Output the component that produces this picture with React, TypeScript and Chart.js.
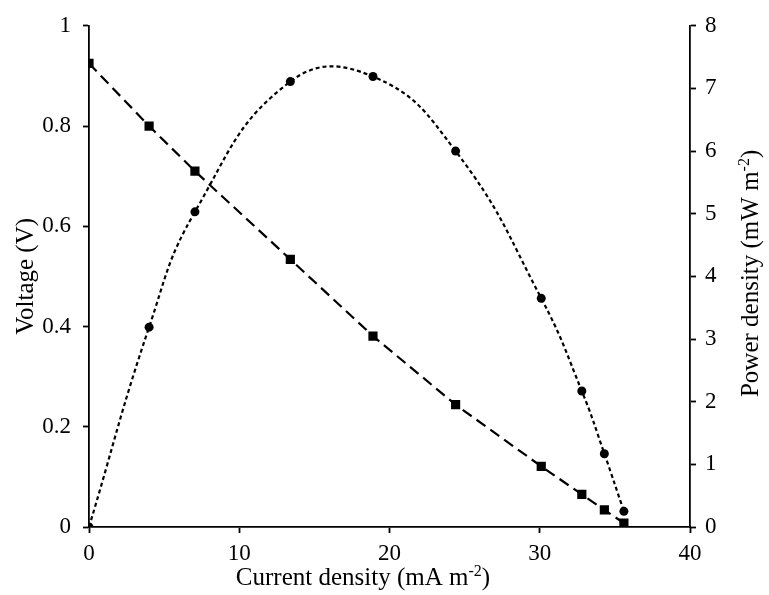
import React, { useEffect, useRef } from "react";
import { Chart, registerables } from "chart.js";

Chart.register(...registerables);

// ---- data ----
const currentDensity = [0, 4, 7.05, 13.4, 18.9, 24.4, 30.1, 32.8, 34.3, 35.6];
const voltage = [0.925, 0.8, 0.71, 0.534, 0.381, 0.244, 0.121, 0.065, 0.034, 0.008];
const powerDensity = [0, 3.19, 5.03, 7.11, 7.19, 6.0, 3.65, 2.17, 1.17, 0.25];

const xTicks = [0, 10, 20, 30, 40];
const voltageTicks = [0, 0.2, 0.4, 0.6, 0.8, 1];
const powerTicks = [0, 1, 2, 3, 4, 5, 6, 7, 8];

type Part = { text: string; sup?: boolean };
const xTitle: Part[] = [{ text: "Current density (mA m" }, { text: "-2", sup: true }, { text: ")" }];
const leftTitle: Part[] = [{ text: "Voltage (V)" }];
const rightTitle: Part[] = [{ text: "Power density (mW m" }, { text: "-2", sup: true }, { text: ")" }];

const FONT = '"Liberation Serif", "Times New Roman", serif';
const TITLE_SIZE = 25;
const TICK_SIZE = 23;

function drawRich(ctx: CanvasRenderingContext2D, parts: Part[], size: number) {
  const supSize = Math.round(size * 0.62);
  const widths = parts.map((p) => {
    ctx.font = `${p.sup ? supSize : size}px ${FONT}`;
    return ctx.measureText(p.text).width;
  });
  const total = widths.reduce((a, b) => a + b, 0);
  let x = -total / 2;
  ctx.textAlign = "left";
  ctx.textBaseline = "alphabetic";
  parts.forEach((p, i) => {
    ctx.font = `${p.sup ? supSize : size}px ${FONT}`;
    ctx.fillText(p.text, x, p.sup ? -size * 0.38 : 0);
    x += widths[i];
  });
}

const titlesPlugin = {
  id: "axisTitles",
  afterDraw(chart: any) {
    const ctx: CanvasRenderingContext2D = chart.ctx;
    const area = chart.chartArea;
    ctx.save();
    ctx.fillStyle = "#000";
    // x title
    ctx.save();
    ctx.translate(363, 585);
    drawRich(ctx, xTitle, TITLE_SIZE);
    ctx.restore();
    // left title
    ctx.save();
    ctx.translate(33, (area.top + area.bottom) / 2);
    ctx.rotate(-Math.PI / 2);
    drawRich(ctx, leftTitle, TITLE_SIZE);
    ctx.restore();
    // right title
    ctx.save();
    ctx.translate(758, (area.top + area.bottom) / 2 - 3);
    ctx.rotate(-Math.PI / 2);
    drawRich(ctx, rightTitle, TITLE_SIZE);
    ctx.restore();
    ctx.restore();
  },
};

export default function App() {
  const ref = useRef<HTMLCanvasElement | null>(null);

  useEffect(() => {
    document.body.style.margin = "0";
    const canvas = ref.current;
    if (!canvas) return;

    const axisCommon = {
      border: { display: true, color: "#000", width: 1.8 },
      grid: {
        drawOnChartArea: false,
        drawTicks: true,
        tickLength: 6,
        tickWidth: 1.8,
        tickColor: "#000",
      },
    };

    const chart = new Chart(canvas, {
      type: "line",
      data: {
        datasets: [
          {
            label: "Voltage",
            data: currentDensity.map((x, i) => ({ x, y: voltage[i] })),
            yAxisID: "y",
            borderColor: "#000",
            backgroundColor: "#000",
            borderWidth: 2.2,
            borderDash: [11, 6],
            tension: 0,
            pointStyle: "rect",
            pointRadius: 6.5,
            pointBorderWidth: 0,
            fill: false,
          },
          {
            label: "Power density",
            data: currentDensity.map((x, i) => ({ x, y: powerDensity[i] })),
            yAxisID: "y1",
            borderColor: "#000",
            backgroundColor: "#000",
            borderWidth: 2.2,
            borderDash: [4, 3],
            tension: 0.45,
            pointStyle: "circle",
            pointRadius: 4.5,
            pointBorderWidth: 0,
            fill: false,
          },
        ],
      },
      options: {
        animation: false,
        responsive: false,
        devicePixelRatio: 1,
        layout: { padding: { top: 23, left: 0, right: 0, bottom: 0 } },
        plugins: {
          legend: { display: false },
          tooltip: { enabled: false },
        },
        scales: {
          x: {
            type: "linear",
            position: "bottom",
            min: 0,
            max: 40,
            ...axisCommon,
            afterBuildTicks: (s: any) => {
              s.ticks = xTicks.map((v) => ({ value: v }));
            },
            afterFit: (s: any) => {
              s.height = 68;
            },
            ticks: {
              color: "#000",
              padding: 7,
              maxRotation: 0,
              font: { family: FONT, size: TICK_SIZE },
              callback: (v: any) => String(v),
            },
            title: { display: false },
          },
          y: {
            type: "linear",
            position: "left",
            min: 0,
            max: 1,
            ...axisCommon,
            afterBuildTicks: (s: any) => {
              s.ticks = voltageTicks.map((v) => ({ value: v }));
            },
            afterFit: (s: any) => {
              s.width = 89;
            },
            ticks: {
              color: "#000",
              padding: 12,
              font: { family: FONT, size: TICK_SIZE },
              callback: (v: any) => String(Math.round(Number(v) * 10) / 10),
            },
            title: { display: false },
          },
          y1: {
            type: "linear",
            position: "right",
            min: 0,
            max: 8,
            ...axisCommon,
            afterBuildTicks: (s: any) => {
              s.ticks = powerTicks.map((v) => ({ value: v }));
            },
            afterFit: (s: any) => {
              s.width = 79;
            },
            ticks: {
              color: "#000",
              padding: 9,
              font: { family: FONT, size: TICK_SIZE },
              callback: (v: any) => String(v),
            },
            title: { display: false },
          },
        },
      },
      plugins: [titlesPlugin],
    } as any);

    return () => chart.destroy();
  }, []);

  return (
    <div style={{ width: 769, height: 595, background: "#fff" }}>
      <canvas ref={ref} width={769} height={595} />
    </div>
  );
}
